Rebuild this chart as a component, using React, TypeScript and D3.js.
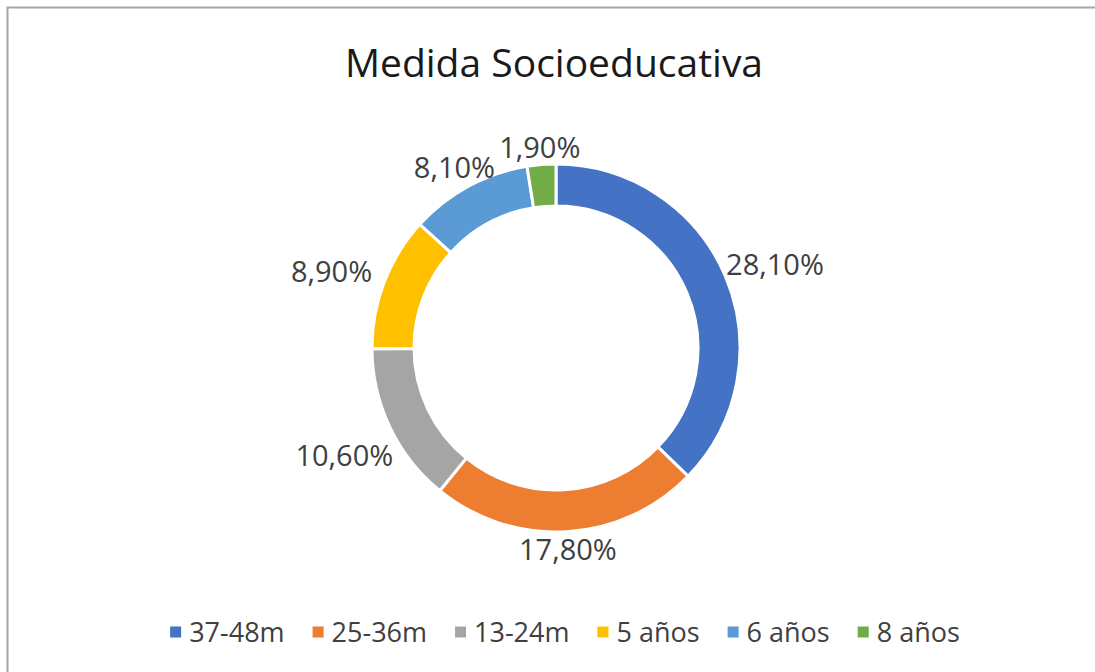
import React, { useEffect, useRef } from "react";
import * as d3 from "d3";

const categories = ["37-48m", "25-36m", "13-24m", "5 años", "6 años", "8 años"];
const values = [28.1, 17.8, 10.6, 8.9, 8.1, 1.9];
const labels = ["28,10%", "17,80%", "10,60%", "8,90%", "8,10%", "1,90%"];
const colors = ["#4472C4", "#ED7D31", "#A5A5A5", "#FFC000", "#5B9BD5", "#70AD47"];
const title = "Medida Socioeducativa";

const W = 1095;
const H = 672;
const FONT = "'Open Sans', 'Noto Sans', sans-serif";

export default function App() {
  const ref = useRef<SVGSVGElement | null>(null);

  useEffect(() => {
    const svg = d3.select(ref.current);
    svg.selectAll("*").remove();

    svg.append("rect").attr("width", W).attr("height", H).attr("fill", "#fff");
    // border (top and left visible)
    svg.append("path")
      .attr("d", `M7.5,${H} L7.5,7.5 L${W},7.5`)
      .attr("fill", "none")
      .attr("stroke", "#a6a6a6")
      .attr("stroke-width", 2);

    svg.append("text")
      .attr("x", 554)
      .attr("y", 77)
      .attr("text-anchor", "middle")
      .attr("font-family", FONT)
      .attr("font-size", 39)
      .attr("fill", "#1a1a1a")
      .text(title);

    const cx = 556, cy = 348, R = 184, r = 142;
    const pie = d3.pie<number>().sort(null).value((d) => d)(values);
    const arc = d3.arc<d3.PieArcDatum<number>>().innerRadius(r).outerRadius(R);

    const g = svg.append("g").attr("transform", `translate(${cx},${cy})`);
    g.selectAll("path.slice")
      .data(pie)
      .join("path")
      .attr("class", "slice")
      .attr("d", arc as any)
      .attr("fill", (_, i) => colors[i])
      .attr("stroke", "#fff")
      .attr("stroke-width", 3)
      .attr("stroke-linejoin", "miter");

    const labelSize = 29;
    const capH = labelSize * 0.714;
    pie.forEach((p, i) => {
      const t = g.append("text")
        .attr("text-anchor", "middle")
        .attr("font-family", FONT)
        .attr("font-size", labelSize)
        .attr("fill", "#404040")
        .text(labels[i]);
      const w = (t.node() as SVGTextElement).getComputedTextLength();
      const mid = (p.startAngle + p.endAngle) / 2;
      const s = Math.sin(mid);
      const c = -Math.cos(mid);
      const hw = w / 2 + 2;
      const hh = capH / 2 + 1;
      const ext = Math.min(
        Math.abs(s) > 1e-6 ? hw / Math.abs(s) : Infinity,
        Math.abs(c) > 1e-6 ? hh / Math.abs(c) : Infinity
      );
      const gap = 5 + 18 * Math.abs(s);
      const dist = R + gap + ext;
      const x = dist * s + 3 * s;
      const y = dist * c + 9 * Math.abs(s);
      t.attr("x", x).attr("y", y + capH / 2);
    });

    // legend
    const legSize = 27;
    const legCapH = legSize * 0.714;
    const legY = 632;
    const marker = 11;
    const mGap = 8;
    const itemGap = 28;
    const lg = svg.append("g");
    const items = categories.map((cat, i) => {
      const it = lg.append("g");
      it.append("rect")
        .attr("width", marker)
        .attr("height", marker)
        .attr("y", legY - marker / 2)
        .attr("fill", colors[i]);
      const tx = it.append("text")
        .attr("x", marker + mGap)
        .attr("y", legY + legCapH / 2)
        .attr("font-family", FONT)
        .attr("font-size", legSize)
        .attr("fill", "#404040")
        .text(cat);
      const w = (tx.node() as SVGTextElement).getComputedTextLength();
      return { it, w: marker + mGap + w };
    });
    const total = d3.sum(items, (d) => d.w) + itemGap * (items.length - 1);
    let x0 = 565 - total / 2;
    items.forEach((d) => {
      d.it.attr("transform", `translate(${x0},0)`);
      x0 += d.w + itemGap;
    });
  }, []);

  return (
    <svg
      ref={ref}
      width={W}
      height={H}
      style={{ position: "absolute", left: 0, top: 0, display: "block" }}
    />
  );
}
